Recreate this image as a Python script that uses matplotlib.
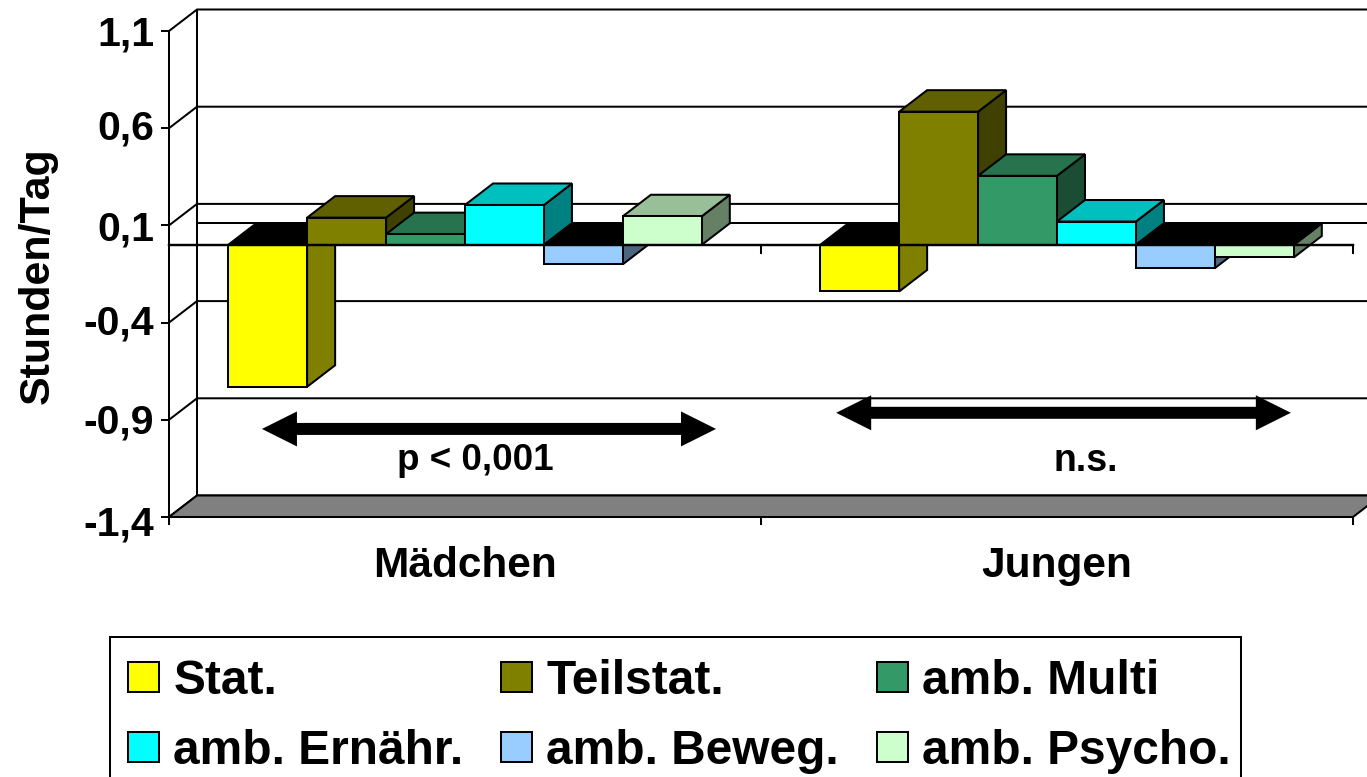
import matplotlib
import matplotlib.pyplot as plt
from matplotlib.patches import Patch, Polygon, Rectangle
from matplotlib.transforms import ScaledTranslation

matplotlib.use("Agg")

plt.rcParams["font.family"] = ["Liberation Sans", "DejaVu Sans"]
plt.rcParams["font.weight"] = "bold"
plt.rcParams["axes.labelweight"] = "bold"

W, H = 1367, 777

groups = ["Mädchen", "Jungen"]
series = ["Stat.", "Teilstat.", "amb. Multi", "amb. Ernähr.", "amb. Beweg.", "amb. Psycho."]
maedchen = [-0.73, 0.14, 0.055, 0.205, -0.10, 0.147]
jungen = [-0.24, 0.685, 0.355, 0.12, -0.12, -0.065]
colors = ["#FFFF00", "#808000", "#339966", "#00FFFF", "#99CCFF", "#CCFFCC"]
y_ticks = [1.1, 0.6, 0.1, -0.4, -0.9, -1.4]
y_labels = ["1,1", "0,6", "0,1", "-0,4", "-0,9", "-1,4"]

# depth of the fake 3d box, in data units
DX = 28 / 592
DY = 21.5 / 194.4
BAR_W = 0.8 / 6
EDGE = 1.45


def shade(color, f):
    rgb = matplotlib.colors.to_rgb(color)
    return tuple(c * f for c in rgb)


def face(ax, pts, color, z):
    ax.add_patch(Polygon(pts, closed=True, facecolor=color, edgecolor="black",
                         linewidth=EDGE, joinstyle="miter", clip_on=False, zorder=z))


def bar3d(ax, x, v, color, z):
    r = x + BAR_W
    # top face is black when the bar hangs below zero
    top_y = max(v, 0)
    top = shade(color, 0.75) if v > 0 else "black"
    side = shade(color, 0.5)
    face(ax, [(r, 0), (r + DX, DY), (r + DX, v + DY), (r, v)], side, z)
    face(ax, [(x, top_y), (x + DX, top_y + DY), (r + DX, top_y + DY), (r, top_y)], top, z)
    face(ax, [(x, 0), (r, 0), (r, v), (x, v)], color, z)


def double_arrow(ax, x0, x1, y):
    hl, hh, sh = 35 / 592, 17.5 / 194.4, 6 / 194.4
    pts = [(x0, y), (x0 + hl, y + hh), (x0 + hl, y + sh), (x1 - hl, y + sh),
           (x1 - hl, y + hh), (x1, y), (x1 - hl, y - hh), (x1 - hl, y - sh),
           (x0 + hl, y - sh), (x0 + hl, y - hh)]
    ax.add_patch(Polygon(pts, closed=True, facecolor="black", edgecolor="none",
                         clip_on=False, zorder=50))


fig = plt.figure(figsize=(W / 100, H / 100), dpi=100)
ax = fig.add_axes([169 / W, (H - 517) / H, 1184 / W, 486 / H])
ax.set_xlim(0, 2)
ax.set_ylim(-1.4, 1.1)
ax.patch.set_visible(False)

for s in ["top", "right"]:
    ax.spines[s].set_visible(False)
for s in ["left", "bottom"]:
    ax.spines[s].set_linewidth(EDGE)

ax.set_yticks(y_ticks)
ax.set_yticklabels(y_labels, fontsize=29.5)
ax.tick_params(axis="y", length=5.8, width=EDGE, pad=5)
ax.set_xticks([0, 1, 2])
ax.set_xticklabels([])
ax.tick_params(axis="x", which="major", length=5.8, width=EDGE)
ax.set_xticks([0.5, 1.5], minor=True)
ax.set_xticklabels(groups, minor=True, fontsize=30.5)
ax.tick_params(axis="x", which="minor", length=0, pad=21)
ax.set_ylabel("Stunden/Tag", fontsize=31, va="center")
ax.yaxis.set_label_coords(-0.1107, 0.497)

# the tick labels do not sit exactly level with their ticks in the original
for label, nudge in zip(ax.get_yticklabels(), [0, 4, 0, 3, 1, -4]):
    label.set_transform(label.get_transform() + ScaledTranslation(0, nudge / 100, fig.dpi_scale_trans))

# back wall, gridlines and the slanted parts on the side wall
wall_top = y_ticks[0] + DY
ax.plot([DX, DX], [-1.4 + DY, wall_top], color="black", lw=EDGE, clip_on=False, zorder=1)
for t in y_ticks:
    ax.plot([0, DX, 2 + DX], [t, t + DY, t + DY], color="black", lw=EDGE, clip_on=False, zorder=1)

# floor
face(ax, [(0, -1.4), (DX, -1.4 + DY), (2 + DX, -1.4 + DY), (2, -1.4)], "#808080", 2)

# zero plane
ax.plot([DX, 2 + DX], [DY, DY], color="black", lw=EDGE, clip_on=False, zorder=1)

z = 3
for g, vals in enumerate([maedchen, jungen]):
    for i, v in enumerate(vals):
        bar3d(ax, g + 0.1 + i * BAR_W, v, colors[i], z)
        z += 1

ax.plot([0, 2], [0, 0], color="black", lw=EDGE * 1.2, clip_on=False, zorder=40)
for t in [0, 1, 2]:
    ax.plot([t, t], [0, -8 / 194.4], color="black", lw=EDGE, clip_on=False, zorder=2)

double_arrow(ax, 0.157, 0.924, -0.947)
double_arrow(ax, 1.127, 1.895, -0.864)
ax.text(0.518, -1.11, "p < 0,001", fontsize=26.5, ha="center", va="center", zorder=50)
ax.text(1.549, -1.11, "n.s.", fontsize=27, ha="center", va="center", zorder=50)

# legend is filled column by column, and runs off the bottom of the picture
order = [0, 3, 1, 4, 2, 5]
handles = [Patch(facecolor=colors[i], edgecolor="black", linewidth=EDGE, label=series[i]) for i in order]
leg = fig.legend(
    handles=handles,
    loc="upper left",
    bbox_to_anchor=(109 / W, (H - 640) / H),
    bbox_transform=fig.transFigure,
    ncol=3,
    fontsize=34.5,
    frameon=False,
    borderpad=0.4,
    borderaxespad=0,
    handlelength=0.65,
    handleheight=0.6,
    handletextpad=0.29,
    columnspacing=0.79,
    labelspacing=0.52,
)
# frame drawn by hand, the legend's own one would come out too wide
fig.add_artist(Rectangle((110 / W, -0.05), 1131 / W, (H - 637) / H + 0.05, transform=fig.transFigure,
                         facecolor="none", edgecolor="black", linewidth=EDGE))

plt.savefig("out.png", dpi=100)
